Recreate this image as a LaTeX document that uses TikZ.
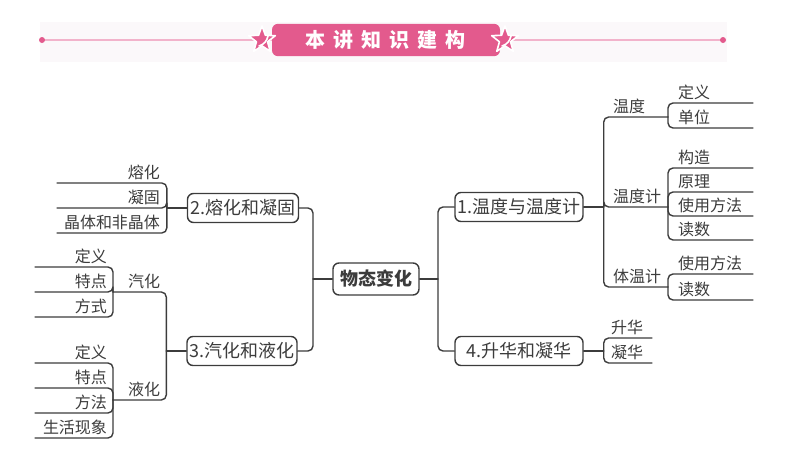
\documentclass[tikz,border=0pt]{standalone}
\usepackage{fontspec}
\setmainfont{Noto Sans CJK SC}
\newfontfamily\titlefont[LetterSpace=40]{Noto Sans CJK SC}
\usetikzlibrary{shapes.geometric}
\definecolor{lnc}{HTML}{3C3C3C}
\definecolor{pinkc}{HTML}{E35A8D}
\definecolor{pinkl}{HTML}{F2B3CB}
\definecolor{bgc}{HTML}{FBF8FA}
\tikzset{
  box/.style={draw=lnc, line width=0.7pt, rounded corners=3pt, minimum height=14.5pt, inner sep=1pt, text=lnc, font=\fontsize{9}{9}\selectfont},
  lab/.style={outer sep=0pt, inner ysep=1.5pt, text=lnc, font=\fontsize{8}{8}\selectfont},
  rleaf/.style={lab, anchor=south west, align=left, inner xsep=5pt, text width=#1},
  lleaf/.style={lab, anchor=south east, align=right, inner xsep=3.5pt, text width=#1},
  link/.style={draw=lnc, line width=0.7pt, rounded corners=2.5pt},
  deco/.style={star, star points=5, star point ratio=2.4, fill=pinkc, draw=white, line width=0.8pt, minimum size=14pt, inner sep=0pt}
}
\begin{document}
\begin{tikzpicture}[x=0.5pt, y=-0.5pt, line join=round, line cap=round]
  \useasboundingbox (0,0) rectangle (800,450);
  % title bar
  \fill[bgc] (40,22) rectangle (727,62);
  \draw[pinkl, line width=1.2pt] (42,40) -- (723,40);
  \fill[pinkc] (42,40) circle (3) (723,40) circle (3);
  \node[fill=pinkc, rounded corners=3pt, minimum width=114pt, minimum height=16pt, text=white, font=\titlefont\bfseries\fontsize{10}{10}\selectfont] (title) at (386,40) {本讲知识建构};
  \node[deco] (sl) at (262,40) {};
  \node[deco] (sr) at (505,40) {};
  \foreach \s in {sl,sr}
    \draw[white, line width=0.8pt] ([shift={(-3,6)}]\s.center) to[bend right=30] ([shift={(6,-4)}]\s.center);

  % boxes
  \node[box, minimum width=43pt, minimum height=16pt, font=\bfseries\fontsize{9}{9}\selectfont] (root) at (376,279) {物态变化};
  \node[box, minimum width=64pt] (b1) at (519,207) {1.温度与温度计};
  \node[box, minimum width=64pt] (b4) at (519,351) {4.升华和凝华};
  \node[box, minimum width=55.5pt] (b2) at (243,208) {2.熔化和凝固};
  \node[box, minimum width=55pt] (b3) at (242,351) {3.汽化和液化};
  \coordinate (jr) at (438,279);
  \coordinate (jl) at (313,279);
  \coordinate (j1) at ([xshift=10pt]b1.east);
  \coordinate (j4) at ([xshift=10pt]b4.east);
  \coordinate (j2) at ([xshift=-10pt]b2.west);
  \coordinate (j3) at ([xshift=-10pt]b3.west);

  % right: 1
  \node[rleaf=22.5pt] (wd) at (603,117) {温度};
  \node[rleaf=22.5pt] (wdj) at (603,207) {温度计};
  \node[rleaf=22.5pt] (twj) at (603,287) {体温计};
  \node[rleaf=32.5pt] (wd1) at (668,103) {定义};
  \node[rleaf=32.5pt] (wd2) at (668,128) {单位};
  \node[rleaf=32.5pt] (wdj1) at (668,168) {构造};
  \node[rleaf=32.5pt] (wdj2) at (668,192) {原理};
  \node[rleaf=32.5pt] (wdj3) at (668,216) {使用方法};
  \node[rleaf=32.5pt] (wdj4) at (668,240) {读数};
  \node[rleaf=32.5pt] (twj1) at (668,274) {使用方法};
  \node[rleaf=32.5pt] (twj2) at (668,300) {读数};
  % right: 4
  \node[rleaf=16.5pt, inner xsep=4pt] (sh) at (603,338) {升华};
  \node[rleaf=16.5pt, inner xsep=4pt] (nh) at (603,363) {凝华};

  % left: 2
  \node[lleaf=48pt] (rh) at (167,183) {熔化};
  \node[lleaf=48pt] (ng) at (167,208) {凝固};
  \node[lleaf=48pt] (jt) at (167,233) {晶体和非晶体};
  % left: 3
  \node[lleaf=20pt] (qh) at (167,292) {汽化};
  \node[lleaf=20pt] (yh) at (167,400) {液化};
  \node[lleaf=33pt, inner xsep=3pt] (qh1) at (113,267) {定义};
  \node[lleaf=33pt, inner xsep=3pt] (qh2) at (113,292) {特点};
  \node[lleaf=33pt, inner xsep=3pt] (qh3) at (113,317) {方式};
  \node[lleaf=33pt, inner xsep=3pt] (yh1) at (113,363) {定义};
  \node[lleaf=33pt, inner xsep=3pt] (yh2) at (113,388) {特点};
  \node[lleaf=33pt, inner xsep=3pt] (yh3) at (113,413) {方法};
  \node[lleaf=33pt, inner xsep=3pt] (yh4) at (113,438) {生活现象};

  % connectors
  \draw[link] (root.east) -- (jr);
  \draw[link] (b1.west) -| (jr) |- (b4.west);
  \draw[link] (root.west) -- (jl);
  \draw[link] (b2.east) -| (jl) |- (b3.east);

  \draw[link] (b1.east) -- (j1);
  \foreach \n in {wd,wdj,twj} \draw[link] (j1) |- (\n.south east);
  \foreach \n in {wd1,wd2} \draw[link] (wd.south east) |- (\n.south east);
  \foreach \n in {wdj1,wdj2,wdj3,wdj4} \draw[link] (wdj.south east) |- (\n.south east);
  \foreach \n in {twj1,twj2} \draw[link] (twj.south east) |- (\n.south east);
  \draw[link] (b4.east) -- (j4);
  \foreach \n in {sh,nh} \draw[link] (j4) |- (\n.south east);

  \draw[link] (b2.west) -- (j2);
  \foreach \n in {rh,ng,jt} \draw[link] (j2) |- (\n.south west);
  \draw[link] (b3.west) -- (j3);
  \foreach \n in {qh,yh} \draw[link] (j3) |- (\n.south west);
  \foreach \n in {qh1,qh2,qh3} \draw[link] (qh.south west) |- (\n.south west);
  \foreach \n in {yh1,yh2,yh3,yh4} \draw[link] (yh.south west) |- (\n.south west);
\end{tikzpicture}
\end{document}
